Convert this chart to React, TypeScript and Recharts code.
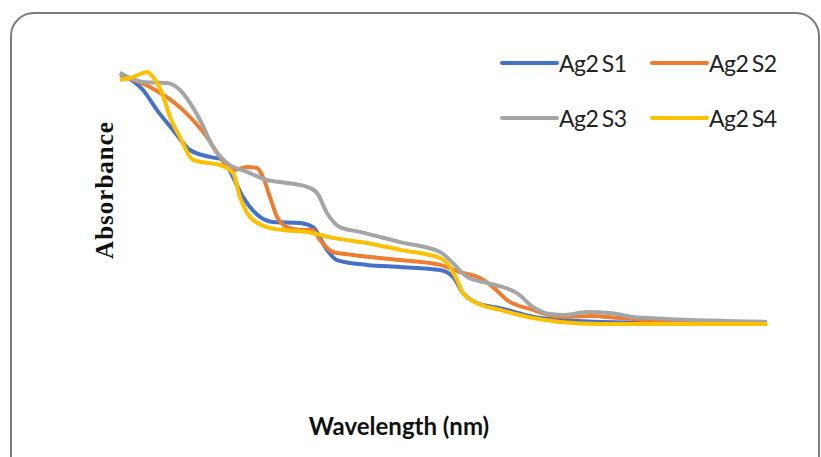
import { LineChart, Line, XAxis, YAxis } from "recharts";

// wavelength (nm) vs absorbance
const s1 = [
  [200, 0.957], [223, 0.9], [237, 0.833], [253, 0.767], [270, 0.7], [290, 0.677],
  [303, 0.667], [313, 0.61], [323, 0.543], [340, 0.477], [353, 0.46], [380, 0.457],
  [393, 0.443], [407, 0.367], [417, 0.333], [447, 0.317], [480, 0.31], [520, 0.3],
  [533, 0.277], [543, 0.223], [557, 0.19], [580, 0.173], [620, 0.14], [680, 0.127],
  [780, 0.123], [847, 0.123],
];
const s2 = [
  [200, 0.95], [230, 0.91], [263, 0.833], [287, 0.743], [300, 0.677], [313, 0.633],
  [327, 0.643], [337, 0.64], [343, 0.61], [350, 0.543], [357, 0.477], [367, 0.443],
  [380, 0.433], [393, 0.433], [400, 0.4], [413, 0.36], [433, 0.35], [480, 0.333],
  [520, 0.317], [540, 0.293], [560, 0.273], [573, 0.243], [587, 0.2], [613, 0.167],
  [640, 0.143], [670, 0.147], [700, 0.14], [740, 0.13], [847, 0.123],
];
const s3 = [
  [200, 0.957], [223, 0.927], [247, 0.923], [260, 0.9], [270, 0.857], [280, 0.8],
  [293, 0.71], [307, 0.657], [327, 0.627], [347, 0.6], [367, 0.59], [387, 0.577],
  [397, 0.557], [407, 0.49], [420, 0.443], [440, 0.427], [480, 0.393], [520, 0.36],
  [533, 0.323], [547, 0.277], [567, 0.257], [583, 0.243], [597, 0.223], [613, 0.177],
  [630, 0.153], [645, 0.15], [667, 0.16], [690, 0.157], [713, 0.143], [747, 0.137],
  [847, 0.127],
];
const s4 = [
  [200, 0.933], [213, 0.943], [227, 0.96], [233, 0.943], [242, 0.89], [250, 0.81],
  [260, 0.743], [273, 0.667], [287, 0.657], [300, 0.65], [313, 0.623], [320, 0.543],
  [330, 0.477], [347, 0.443], [363, 0.433], [387, 0.427], [413, 0.407], [447, 0.39],
  [480, 0.367], [520, 0.34], [530, 0.31], [537, 0.267], [543, 0.223], [557, 0.19],
  [580, 0.167], [613, 0.14], [640, 0.127], [680, 0.12], [847, 0.12],
];

const seriesNames = ["Ag2 S1", "Ag2 S2", "Ag2 S3", "Ag2 S4"];
const colors = ["#4472C4", "#ED7D31", "#A5A5A5", "#FFC000"];

const toPoints = (arr: number[][]) => arr.map(([wl, a]) => ({ wl, a }));
const series = [s1, s2, s3, s4].map(toPoints);

function LegendGrid() {
  return (
    <div style={{
      position: "absolute", left: 500, top: 50, display: "grid",
      gridTemplateColumns: "150px 150px", rowGap: 30,
    }}>
      {seriesNames.map((name, i) => (
        <div key={name} style={{ display: "flex", alignItems: "center", height: 25 }}>
          <div style={{ width: 59, height: 4, background: colors[i], borderRadius: 2 }} />
          <span style={{ fontFamily: "Lato", fontSize: 23, color: "#222", letterSpacing: -0.5, wordSpacing: -2 }}>
            {name}
          </span>
        </div>
      ))}
    </div>
  );
}

export default function App() {
  return (
    <div style={{ position: "absolute", left: 0, top: 0, width: 821, height: 457, background: "#fff", overflow: "hidden" }}>
      <div style={{
        position: "absolute", left: 10, top: 12, width: 806, height: 470,
        border: "2px solid #7c7c7c", borderRadius: 24,
      }} />
      <LineChart width={821} height={457} margin={{ top: 60, right: 51, left: 120, bottom: 97 }}>
        <XAxis dataKey="wl" type="number" domain={[200, 850]} hide />
        <YAxis dataKey="a" type="number" domain={[0, 1]} hide />
        {series.map((d, i) => (
          <Line
            key={seriesNames[i]}
            data={d}
            dataKey="a"
            name={seriesNames[i]}
            type="monotone"
            stroke={colors[i]}
            strokeWidth={4}
            dot={false}
            isAnimationActive={false}
          />
        ))}
      </LineChart>
      <LegendGrid />
      <div style={{
        position: "absolute", left: 105, top: 190, transform: "translate(-50%, -50%) rotate(-90deg)",
        fontFamily: "'Liberation Serif', 'DejaVu Serif', serif", fontWeight: 700, fontSize: 25,
        letterSpacing: 1, color: "#111", whiteSpace: "nowrap",
      }}>
        Absorbance
      </div>
      <div style={{
        position: "absolute", left: 399, top: 425, transform: "translate(-50%, -50%)",
        fontFamily: "Lato", fontWeight: 700, fontSize: 24, color: "#111", whiteSpace: "nowrap",
      }}>
        Wavelength (nm)
      </div>
    </div>
  );
}
